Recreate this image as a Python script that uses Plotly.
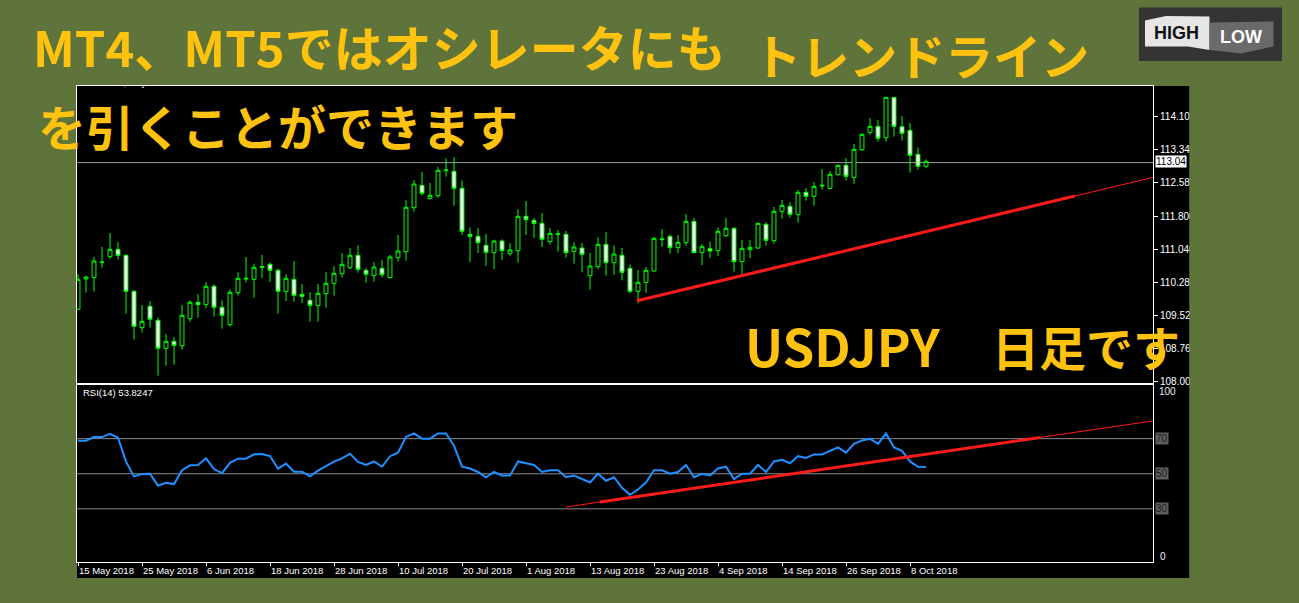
import plotly.graph_objects as go
import pandas as pd

# ---------------- data ----------------
start_date = "2018-05-15"
opens = [109.654,110.354,110.385,110.746,110.869,111.038,110.900,110.069,109.231,109.723,
         109.400,108.754,108.915,108.815,109.438,109.815,109.762,110.185,109.700,109.300,
         110.038,110.354,110.346,110.623,110.692,110.554,110.062,110.346,110.000,109.862,
         109.738,110.015,110.254,110.477,110.615,110.900,110.554,110.431,110.600,110.385,
         110.846,110.985,112.000,112.515,112.208,112.277,112.854,112.838,112.446,111.385,
         111.338,111.131,110.962,111.231,110.938,111.008,111.800,111.708,111.638,111.215,
         111.385,111.385,110.992,111.069,110.431,110.638,111.154,110.731,110.900,110.600,
         110.069,110.277,110.538,111.262,111.338,111.077,111.192,111.685,110.962,111.054,
         111.008,111.354,111.523,110.754,111.031,111.069,111.615,111.238,111.915,112.031,
         111.838,112.354,112.262,112.500,112.446,112.762,112.977,112.700,113.338,113.738,
         113.877,113.615,114.546,113.869,113.785,113.231,112.954]
highs = [110.469,110.423,110.862,111.092,111.415,111.208,110.923,110.100,109.754,109.846,
         109.469,109.085,109.015,109.754,109.862,110.008,110.285,110.231,109.862,110.115,
         110.508,110.862,110.708,110.908,110.738,110.592,110.469,110.769,110.238,110.054,
         110.238,110.515,110.654,110.954,111.069,111.131,110.608,110.746,110.792,110.908,
         111.369,112.177,112.638,112.823,112.569,112.938,113.138,113.169,112.631,111.546,
         111.531,111.392,111.262,111.269,111.185,111.969,112.154,111.762,111.877,111.531,
         111.485,111.462,111.208,111.185,110.954,111.315,111.438,111.131,111.069,110.692,
         110.562,110.631,111.323,111.508,111.377,111.369,111.854,111.762,111.162,111.215,
         111.546,111.762,111.546,111.254,111.254,111.654,111.669,112.015,112.177,112.123,
         112.408,112.454,112.592,112.892,112.846,112.992,113.146,113.469,113.715,114.069,
         114.023,114.554,114.554,114.115,113.954,113.392,113.115]
lows = [109.638,110.038,110.062,110.615,110.815,110.800,109.554,108.954,109.115,109.231,
        108.123,108.354,108.377,108.723,109.369,109.462,109.677,109.485,109.208,109.254,
        109.969,110.269,109.923,110.377,110.285,109.554,109.846,109.831,109.800,109.369,
        109.369,109.692,109.969,110.385,110.585,110.500,110.269,110.292,110.392,110.362,
        110.754,110.777,111.908,112.277,112.192,112.231,112.715,112.046,111.369,110.746,
        110.954,110.654,110.585,110.792,110.892,110.731,111.369,111.300,111.092,111.154,
        110.985,110.846,110.708,110.508,110.108,110.592,110.431,110.446,110.323,110.023,
        109.792,110.038,110.523,111.092,110.938,110.954,111.123,110.962,110.677,110.838,
        110.885,111.323,110.523,110.446,110.838,111.046,111.123,111.169,111.746,111.769,
        111.654,112.162,112.046,112.415,112.423,112.738,112.623,112.554,113.308,113.677,
        113.523,113.523,113.638,113.546,112.808,112.877,112.915]
closes = [110.346,110.400,110.769,110.738,111.038,110.900,110.069,109.262,109.377,109.423,
          108.754,108.915,108.823,109.515,109.815,109.762,110.185,109.700,109.515,110.046,
          110.369,110.369,110.623,110.638,110.554,110.069,110.369,109.977,109.954,109.746,
          110.023,110.254,110.485,110.692,110.900,110.577,110.462,110.631,110.454,110.862,
          111.000,112.008,112.546,112.331,112.285,112.862,112.869,112.446,111.454,111.338,
          111.192,110.969,111.231,111.008,111.023,111.800,111.723,111.638,111.269,111.408,
          111.400,110.962,111.092,110.923,110.654,111.154,110.731,110.931,110.508,110.069,
          110.277,110.554,111.292,111.277,111.077,111.200,111.685,110.962,111.100,111.000,
          111.454,111.523,110.754,111.062,111.085,111.638,111.246,111.915,112.054,111.846,
          112.354,112.262,112.492,112.515,112.769,112.977,112.723,113.346,113.692,113.877,
          113.600,114.546,113.877,113.715,113.208,112.954,113.069]
rsi = [68.8,68.8,70.9,70.9,72.8,70.5,56.9,48.5,49.9,50.0,
       43.2,44.8,44.1,52.0,54.8,55.0,58.8,52.7,50.3,56.2,
       58.6,58.6,61.1,61.3,60.1,52.9,55.8,51.2,51.2,48.5,
       51.8,54.2,56.9,58.8,61.4,56.7,55.0,57.0,54.0,60.0,
       62.0,71.0,73.0,70.0,70.0,73.0,73.0,66.0,54.0,53.0,
       51.0,48.0,51.0,49.0,49.0,57.0,56.0,55.0,51.0,52.0,
       52.0,48.0,49.0,47.0,45.0,50.0,46.0,48.0,42.0,38.0,
       41.0,45.0,52.0,52.0,50.0,51.0,55.0,48.0,50.0,49.0,
       53.0,54.0,47.0,50.0,50.0,55.0,51.0,57.0,58.0,56.0,
       60.0,59.0,61.0,61.0,63.0,65.0,62.0,67.0,69.0,70.0,
       67.0,73.0,65.0,63.0,57.0,54.0,53.8247]
rsi_levels = [70, 50, 30]
current_price = 113.04
price_ticks = [108.00, 108.76, 109.52, 110.28, 111.04, 111.80, 112.58, 113.34, 114.10]
price_tick_text = ["108.000", "108.760", "109.520", "110.280", "111.040",
                   "111.800", "112.580", "113.340", "114.100"]
label_every = 8
# trend lines (bar index, value)
price_trend_x = [69.875, 124.6, 134.4]
price_trend_y = [109.853, 112.268, 112.70]
rsi_trend_x = [61.0, 65.25, 120.25, 134.4]
rsi_trend_y = [31.05, 33.9, 70.7, 80.1]

dates = pd.bdate_range(start_date, periods=len(closes))
idx = list(range(len(closes)))
tick_idx = idx[::label_every]
tick_text = [f"{dates[i].day} {dates[i].strftime('%b %Y')}" for i in tick_idx]

# ---------------- geometry helpers ----------------
W, H = 1299, 603
PL, PR, PT, PB = 77, 1153, 86, 562
pw, ph = PR - PL, PB - PT
def fx(p): return (p - PL) / pw
def fy(p): return (PB - p) / ph

GREEN = "#5f743a"
YEL = "#ffc20e"
LIME = "#00ff00"

fig = go.Figure()

fig.add_trace(go.Candlestick(
    x=idx, open=opens, high=highs, low=lows, close=closes,
    increasing=dict(line=dict(color=LIME, width=1), fillcolor="#000000"),
    decreasing=dict(line=dict(color=LIME, width=1), fillcolor="#ffffff"),
    whiskerwidth=0, showlegend=False, hoverinfo="skip",
    xaxis="x", yaxis="y"))

fig.add_trace(go.Scatter(
    x=[1.4], y=[114.86], mode="text", text=["USDJPY,Daily  113.05 113.07 113.01 113.04"],
    textposition="middle right", textfont=dict(color="white", size=9, family="Liberation Sans"),
    cliponaxis=True, showlegend=False, hoverinfo="skip", xaxis="x", yaxis="y"))

# price trend line: thick part then thin ray
fig.add_trace(go.Scatter(x=price_trend_x[:2], y=price_trend_y[:2], mode="lines",
                         line=dict(color="#ff1a1a", width=3), showlegend=False,
                         hoverinfo="skip", xaxis="x", yaxis="y"))
fig.add_trace(go.Scatter(x=price_trend_x[1:], y=price_trend_y[1:], mode="lines",
                         line=dict(color="#ff1a1a", width=1), showlegend=False,
                         hoverinfo="skip", xaxis="x", yaxis="y"))

fig.add_trace(go.Scatter(x=idx, y=rsi, mode="lines", line=dict(color="#1e90ff", width=2),
                         showlegend=False, hoverinfo="skip", xaxis="x2", yaxis="y2"))

fig.add_trace(go.Scatter(x=rsi_trend_x[:2], y=rsi_trend_y[:2], mode="lines",
                         line=dict(color="#ff1a1a", width=1), showlegend=False,
                         hoverinfo="skip", xaxis="x2", yaxis="y2"))
fig.add_trace(go.Scatter(x=rsi_trend_x[1:3], y=rsi_trend_y[1:3], mode="lines",
                         line=dict(color="#ff1a1a", width=3), showlegend=False,
                         hoverinfo="skip", xaxis="x2", yaxis="y2"))
fig.add_trace(go.Scatter(x=rsi_trend_x[2:], y=rsi_trend_y[2:], mode="lines",
                         line=dict(color="#ff1a1a", width=1), showlegend=False,
                         hoverinfo="skip", xaxis="x2", yaxis="y2"))

xr = [(PL - 78) / 8, (PR - 78) / 8]
price_px = 43.33
y_range = [108 - (383.3 - 381) / price_px, 108 + (381 - PT) / price_px]
rsi_px = 1.755
r_range = [-(PB - 561.5) / rsi_px, (561.5 - 385.3) / rsi_px]

axis_common = dict(showgrid=False, zeroline=False, showline=True, mirror=True,
                   linecolor="white", linewidth=1)

fig.update_layout(
    width=W, height=H,
    margin=dict(l=PL, r=W - PR, t=PT, b=H - PB),
    paper_bgcolor=GREEN, plot_bgcolor="#000000",
    showlegend=False,
    xaxis=dict(domain=[0, 1], anchor="y", range=xr, showticklabels=False, ticks="",
               rangeslider=dict(visible=False), **axis_common),
    yaxis=dict(domain=[fy(383.3), 1], anchor="x", range=y_range, side="right",
               tickvals=price_ticks, ticktext=price_tick_text, ticks="outside",
               ticklen=4, tickcolor="white",
               tickfont=dict(color="white", size=10, family="Liberation Sans"),
               **axis_common),
    xaxis2=dict(domain=[0, 1], anchor="y2", matches="x", range=xr,
                tickvals=tick_idx, ticktext=tick_text, ticks="outside", ticklen=3,
                tickcolor="white", ticklabelposition="outside right",
                tickfont=dict(color="white", size=9.5, family="Liberation Sans"),
                **axis_common),
    yaxis2=dict(domain=[0, fy(385.3)], anchor="x2", range=r_range, side="right",
                showticklabels=False, ticks="", **axis_common),
)

shapes = []
# black chart background extending past plot area
shapes.append(dict(type="rect", xref="paper", yref="paper", x0=fx(77), x1=fx(1189.5),
                   y0=fy(578), y1=fy(86), fillcolor="#000000", line=dict(width=0),
                   layer="below"))
shapes.append(dict(type="line", xref="x domain", yref="y", x0=0, x1=1,
                   y0=current_price, y1=current_price,
                   line=dict(color="#a0a0a0", width=1), layer="below"))
for lv in rsi_levels:
    shapes.append(dict(type="line", xref="x2 domain", yref="y2", x0=0, x1=1, y0=lv, y1=lv,
                       line=dict(color="#8a8a8a", width=1), layer="below"))
# green cover at right edge (clips axis labels like the screenshot)
shapes.append(dict(type="rect", xref="paper", yref="paper", x0=fx(1189.5), x1=fx(1310),
                   y0=fy(610), y1=fy(80), fillcolor=GREEN, line=dict(width=0), layer="above"))
# logo
shapes.append(dict(type="rect", xref="paper", yref="paper", x0=fx(1139), x1=fx(1282),
                   y0=fy(61), y1=fy(7.5), fillcolor="#343434", line=dict(width=0), layer="above"))
def path(pts):
    return "M " + " L ".join(f"{fx(a):.5f},{fy(b):.5f}" for a, b in pts) + " Z"
shapes.append(dict(type="path", xref="paper", yref="paper",
                   path=path([(1145, 20.5), (1166, 16), (1209.5, 16.5), (1209.5, 50),
                              (1188, 46.5), (1145, 46.5)]),
                   fillcolor="#e6e6e6", line=dict(width=0), layer="above"))
shapes.append(dict(type="path", xref="paper", yref="paper",
                   path=path([(1209.5, 22.5), (1273.5, 21.5), (1273.5, 46.5), (1241, 53.5),
                              (1209.5, 50)]),
                   fillcolor="#6a6a6a", line=dict(width=0), layer="above"))
fig.update_layout(shapes=shapes)

ann = []
def big(text, x, y, size=48):
    ann.append(dict(text=f"<b>{text}</b>", xref="paper", yref="paper", x=fx(x), y=fy(y),
                    xanchor="left", yanchor="middle", showarrow=False,
                    font=dict(family="Noto Sans CJK JP", size=size, color=YEL)))
big("MT4、MT5ではオシレータにも", 31, 45, 49)
big("トレンドライン", 751, 54)
big("を引くことができます", 36, 125)
big("USDJPY", 743, 345, 51)
big("日足です", 990, 345, 47)

ann.append(dict(text="RSI(14) 53.8247", xref="paper", yref="paper", x=fx(81), y=fy(393),
                xanchor="left", yanchor="middle", showarrow=False,
                font=dict(family="Liberation Sans", size=9.5, color="white")))
ann.append(dict(text="113.04", xref="paper", yref="paper", x=fx(1155), y=fy(161.5),
                xanchor="left", yanchor="middle", showarrow=False, bgcolor="white",
                borderpad=0, font=dict(family="Liberation Sans", size=10, color="black")))
ann.append(dict(text="100", xref="paper", yref="paper", x=fx(1157), y=fy(392),
                xanchor="left", yanchor="middle", showarrow=False,
                font=dict(family="Liberation Sans", size=10, color="#e6eeff")))
ann.append(dict(text="0", xref="paper", yref="paper", x=fx(1158), y=fy(556),
                xanchor="left", yanchor="middle", showarrow=False,
                font=dict(family="Liberation Sans", size=10, color="#e6eeff")))
for lv in rsi_levels:
    ann.append(dict(text=str(lv), xref="paper", yref="y2", x=fx(1155), y=lv,
                    xanchor="left", yanchor="middle", showarrow=False, bgcolor="#5e5e5e",
                    borderpad=0, font=dict(family="Liberation Sans", size=10, color="#1c1c1c")))
ann.append(dict(text="<b>HIGH</b>", xref="paper", yref="paper", x=fx(1176), y=fy(33),
                xanchor="center", yanchor="middle", showarrow=False,
                font=dict(family="Liberation Sans", size=18, color="#111111")))
ann.append(dict(text="<b>LOW</b>", xref="paper", yref="paper", x=fx(1241), y=fy(37),
                xanchor="center", yanchor="middle", showarrow=False,
                font=dict(family="Liberation Sans", size=18, color="#ffffff")))
fig.update_layout(annotations=ann)

fig.write_html("out.html", config={"displayModeBar": False},
               post_script="document.body.style.margin='0';document.body.style.overflow='hidden';")
